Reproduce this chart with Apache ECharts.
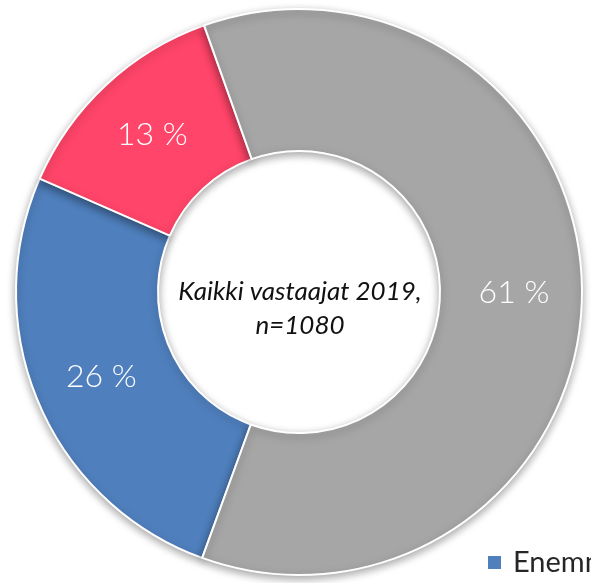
<!DOCTYPE html>
<html>
<head>
<meta charset="utf-8">
<script src="https://cdn.jsdelivr.net/npm/echarts@6/dist/echarts.min.js"></script>
<style>
  html, body { margin: 0; padding: 0; background: #fff; }
  #chart { width: 591px; height: 583px; }
</style>
</head>
<body>
<div id="chart"></div>
<script>
// vastausten jakauma (%)
const categories = ['Enemmän', 'Vähemmän', 'Yhtä paljon']
const shares = [26, 13, 61]
const sliceColors = ['#4F7FBD', '#FF4569', '#A6A6A6']
const centerText = ['Kaikki vastaajat 2019,', 'n=1080']

const myChart = echarts.init(document.getElementById('chart'))

myChart.setOption({
  animation: false,
  color: sliceColors,
  legend: {
    data: categories,
    orient: 'horizontal',
    left: 481,
    top: 543,
    width: 1000,
    icon: 'rect',
    itemWidth: 15,
    itemHeight: 15,
    itemGap: 30,
    textStyle: {
      fontFamily: 'Lato, sans-serif',
      fontSize: 29,
      lineHeight: 28,
      color: '#262626',
      padding: [0, 0, 0, 6],
      overflow: 'none',
    },
  },
  graphic: [
    {
      type: 'text',
      x: 300,
      y: 309,
      z: 100,
      style: {
        text: centerText.join('\n'),
        textAlign: 'center',
        textVerticalAlign: 'middle',
        fontFamily: 'Lato, sans-serif',
        fontStyle: 'italic',
        fontSize: 26,
        lineHeight: 34,
        fill: '#111',
      },
    },
  ],
  series: [
    {
      type: 'pie',
      center: [299, 292],
      radius: [141, 283],
      startAngle: 250,
      clockwise: true,
      legendHoverLink: false,
      data: categories.map((name, i) => ({ name: name, value: shares[i] })),
      itemStyle: {
        borderColor: '#fff',
        borderWidth: 2,
        shadowBlur: 8,
        shadowOffsetY: 3,
        shadowColor: 'rgba(0,0,0,0.35)',
      },
      label: {
        position: 'inside',
        formatter: (p) => p.value + ' %',
        color: '#fff',
        fontFamily: 'Lato, sans-serif',
        fontWeight: 300,
        fontSize: 32,
      },
      labelLine: { show: false },
      emphasis: { disabled: true },
    },
  ],
})
</script>
</body>
</html>
